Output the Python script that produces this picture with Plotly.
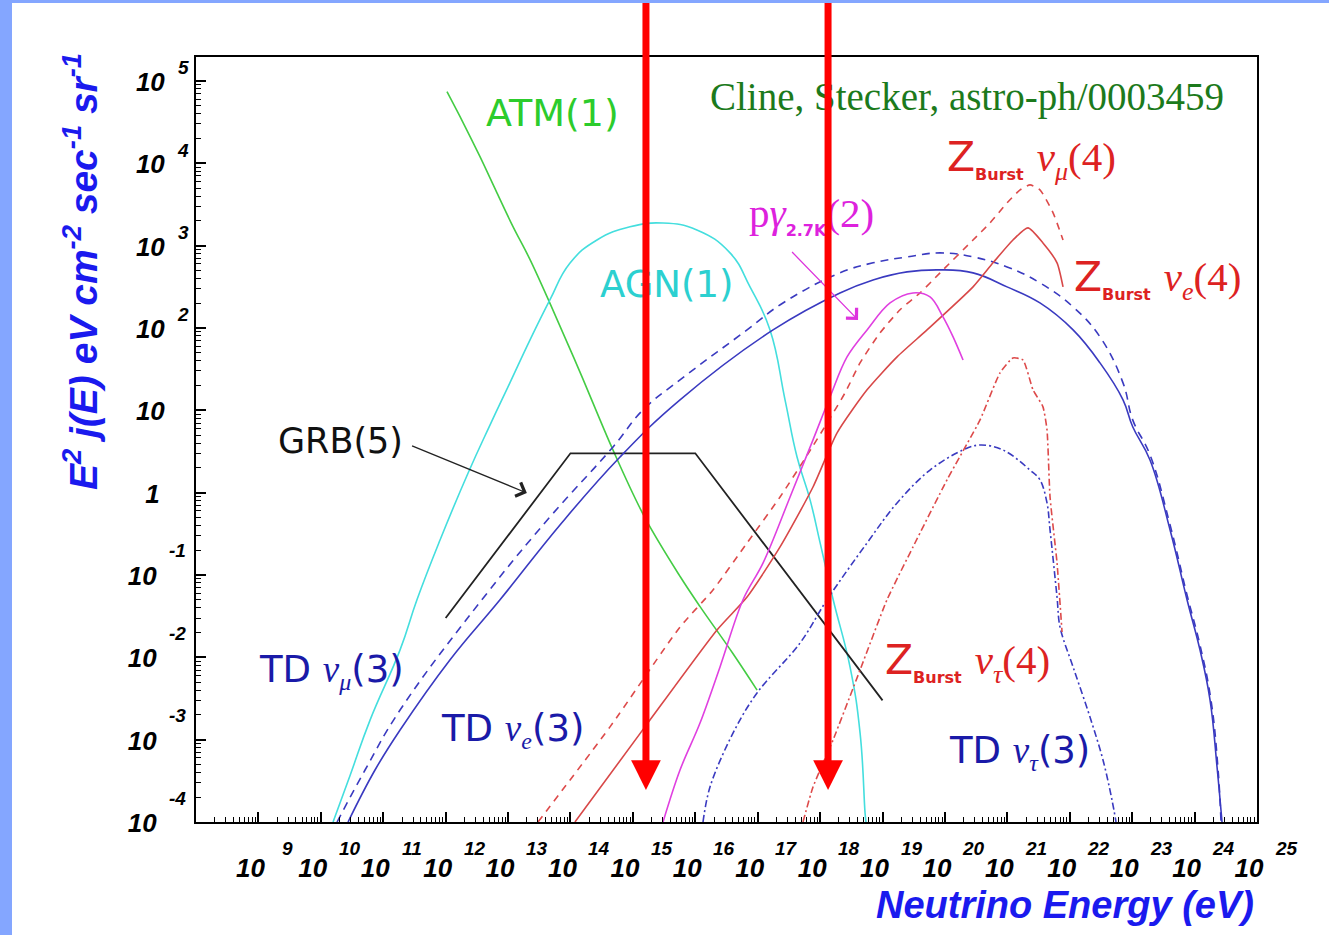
import numpy as np
import plotly.graph_objects as go

# ---------------- data: E [eV], E^2 j(E) [eV cm^-2 s^-1 sr^-1] ----------------
atm_E = [1.05e12, 1.91e12, 3.55e12, 6.61e12, 1.20e13, 2.24e13, 4.68e13, 1.41e14,
         4.79e14, 1.55e15, 5.75e15, 1.20e16, 3.98e16, 9.77e16]
atm_F = [7.4e4, 3.1e4, 1.2e4, 4.4e3, 1.7e3, 680, 200, 29.5, 3.3, 0.50, 0.095,
         0.041, 0.0112, 0.0040]

agn_E = [1.57e10, 2.95e10, 6.17e10, 1.86e11, 3.47e11, 8.13e11, 2.29e12, 5.13e12,
         1.07e13, 2.24e13, 4.68e13, 9.77e13, 2.66e14, 9.00e14, 3.04e15, 1.06e16,
         3.60e16, 7.53e16, 1.57e17, 2.74e17, 4.27e17, 6.92e17, 1.00e18, 1.62e18,
         3.02e18, 4.37e18, 5.25e18, 5.43e18]
agn_F = [1e-4, 3.7e-4, 1.74e-3, 0.0123, 0.050, 0.266, 1.73, 6.6, 21.5, 71, 219,
         610, 1170, 1690, 1880, 1550, 815, 315, 95, 13.4, 2.71, 0.81, 0.245, 0.050,
         0.0076, 1.2e-3, 1.29e-4, 1e-4]

td_e_E = [2.73e10, 7.38e10, 1.86e11, 1.17e12, 7.43e12, 6.79e13, 6.22e14, 5.69e15,
          1.76e17, 2.08e18, 7.05e18, 2.47e19, 8.34e19, 2.82e20, 9.89e20, 3.33e21,
          1.13e22, 3.05e22, 7.13e22, 1.02e23, 1.93e23, 4.05e23, 7.57e23, 1.22e24,
          1.77e24, 2.29e24, 2.75e24]
td_e_F = [1e-4, 4.28e-4, 1.31e-3, 9.29e-3, 0.050, 0.405, 2.71, 13.4, 94.6, 266, 383,
          479, 507, 466, 315, 201, 94.6, 37.6, 13.4, 6.3, 2.49, 0.352, 0.050, 0.0123,
          3.03e-3, 4.66e-4, 1e-4]

td_mu_E = [1.82e10, 5.11e10, 1.86e11, 4.78e12, 4.70e13, 4.81e14, 1.45e15, 5.69e15,
           6.75e16, 2.54e17, 2.08e18, 7.05e18, 2.47e19, 8.34e19, 2.82e20, 9.89e20,
           3.33e21, 1.13e22, 3.05e22, 7.13e22, 1.02e23, 1.93e23, 4.05e23, 7.57e23,
           1.22e24, 1.83e24, 2.38e24, 2.65e24]
td_mu_F = [1e-4, 4.28e-4, 2.29e-3, 0.0622, 0.507, 3.59, 10.1, 23.4, 94.6, 201, 466,
           617, 728, 815, 728, 551, 352, 180, 77.8, 21.5, 7.64, 2.87, 0.405, 0.0571,
           0.0141, 3.03e-3, 4.28e-4, 1e-4]

td_tau_E = [1.33e16, 1.72e16, 4.02e16, 9.75e16, 4.76e17, 1.29e18, 5.65e18, 1.71e19,
            5.77e19, 1.95e20, 3.65e20, 8.53e20, 2.31e21, 3.33e21, 4.32e21, 4.83e21,
            6.25e21, 6.98e21, 1.13e22, 2.11e22, 3.41e22, 4.75e22, 5.51e22]
td_tau_F = [1e-4, 2.66e-4, 1.2e-3, 3.69e-3, 0.0149, 0.050, 0.245, 0.750, 1.88, 3.30,
            3.79, 3.30, 1.88, 1.43, 0.750, 0.352, 0.054, 0.0233, 7.64e-3, 1.88e-3,
            5.66e-4, 1.85e-4, 1e-4]

zb_mu_E = [3.02e13, 4.30e14, 5.69e15, 1.92e16, 6.75e16, 2.28e17, 7.69e17, 2.51e18,
           4.36e18, 9.12e18, 1.91e19, 3.98e19, 8.34e19, 2.82e20, 5.27e20, 9.89e20,
           1.60e21, 2.31e21, 3.33e21, 5.40e21, 7.80e21]
zb_mu_F = [1e-4, 1.43e-3, 0.0233, 0.0658, 0.245, 0.885, 3.69, 16.3, 37.6, 86.9, 166,
           266, 466, 1170, 1884, 3296, 4742, 5458, 4742, 2496, 1170]

zb_e_E = [1.18e14, 1.56e15, 2.23e16, 6.75e16, 2.28e17, 7.69e17, 1.87e18, 5.65e18,
          1.71e19, 5.16e19, 2.82e20, 5.89e20, 1.23e21, 2.14e21, 3.72e21, 6.25e21, 7.80e21]
zb_e_F = [1e-4, 1.43e-3, 0.0215, 0.054, 0.219, 1.17, 5.31, 17.7, 44.5, 94.6, 315, 617,
          1170, 1640, 1076, 617, 315]

zb_tau_E = [5.32e17, 7.69e17, 1.61e18, 4.36e18, 1.18e19, 3.08e19, 1.08e20, 3.65e20,
            7.62e20, 1.23e21, 1.78e21, 2.58e21, 3.72e21, 4.32e21, 4.83e21, 6.25e21, 7.52e21]
zb_tau_F = [1e-4, 2.66e-4, 9.9e-4, 7.0e-3, 0.050, 0.219, 1.43, 7.64, 28.4, 43.2, 40.8,
            17.7, 11.0, 5.77, 0.885, 0.140, 0.0203]

pg_E = [3.04e15, 5.69e15, 1.19e16, 2.49e16, 5.82e16, 1.22e17, 3.30e17, 7.69e17,
        1.44e18, 2.70e18, 5.65e18, 1.32e19, 3.08e19, 5.77e19, 9.31e19, 1.35e20, 1.95e20]
pg_F = [1e-4, 4.28e-4, 1.59e-3, 7.64e-3, 0.050, 0.140, 0.885, 4.37, 14.5, 44.5, 94.6,
        201, 266, 238, 136, 77.8, 40.8]

grb_E = [1e12, 1e14, 1e16, 1e19]
grb_F = [0.03, 3.0, 3.0, 0.003]

# tick labels (decade exponents)
x_exponents = list(range(9, 26))
y_exponents = [-4, -3, -2, -1, 0, 1, 2, 3, 4, 5]

# curve labels (rich text built from styled spans)
SERIF = "Liberation Serif"


def sp(text, size, family=None, italic=False, bold=False):
    st = [f"font-size:{size}px"]
    if family:
        st.append(f"font-family:{family}")
    if italic:
        st.append("font-style:italic")
    if bold:
        st.append("font-weight:bold")
    return f"<span style='{';'.join(st)}'>{text}</span>"


def zburst(flav, s=41):
    return ("Z<sub>" + sp("Burst", 16, bold=True) + "</sub> "
            + sp("ν", s, SERIF, italic=True) + "<sub>" + sp(flav, 26, SERIF, italic=True)
            + "</sub>" + sp("(4)", s, SERIF))


def td(flav, s=37):
    return ("TD " + sp("ν", s, SERIF, italic=True) + "<sub>"
            + sp(flav, 24, SERIF, italic=True) + "</sub>" + "(3)")


lab_text = [
    "ATM(1)",
    "AGN(1)",
    "GRB(5)",
    sp("p", 41, SERIF) + sp("γ", 41, SERIF, italic=True) + "<sub>"
    + sp("2.7K", 16, bold=True) + "</sub>" + sp("(2)", 41, SERIF),
    zburst("μ"),
    zburst("e"),
    zburst("τ"),
    td("μ"),
    td("e"),
    td("τ"),
]
lab_E = [5.06e13, 3.52e15, 2.03e10, 7.41e17, 2.48e21, 2.50e23, 2.26e20, 1.46e10, 1.16e13, 1.54e21]
lab_F = [4.08e4, 333, 4.25, 2361, 1.10e4, 383, 8.77e-3, 6.64e-3, 1.31e-3, 7.08e-4]
lab_col = ["#2ccc2c", "#2cd0d0", "#111111", "#dd22dd", "#dd2222", "#dd2222", "#dd2222",
           "#1a1aa8", "#1a1aa8", "#1a1aa8"]
lab_size = [38, 37, 35, 41, 41, 41, 41, 37, 37, 37]

credit_text = "Cline, Stecker, astro-ph/0003459"
credit_E, credit_F = 2.26e20, 6.4e4

# pointer arrows (head, tail)
grb_arrow = dict(E=2.0e13, F=0.99, tE=2.69e11, tF=3.79)
pg_arrow = dict(E=4.05e18, F=125, tE=3.30e17, tF=885)

# red marker arrows
red_arrow_E = [1.62e15, 1.34e18]
red_arrow_tipF = 2.45e-4

# ---------------- figure ----------------
W, H = 1329, 935
L, R, T, B = 196, 72, 57, 113
pw, ph = W - L - R, H - T - B

fig = go.Figure()


def add_curve(E, F, color, dash="solid", width=1.6, shape="spline", smooth=1.0):
    line = dict(color=color, width=width, dash=dash, shape=shape)
    if shape == "spline":
        line["smoothing"] = smooth
    fig.add_trace(go.Scatter(x=E, y=F, mode="lines", line=line, hoverinfo="skip"))


add_curve(atm_E, atm_F, "#44cc44")
add_curve(agn_E, agn_F, "#44dede", smooth=1.3)
add_curve(grb_E, grb_F, "#222222", width=1.8, shape="linear")
add_curve(td_mu_E, td_mu_F, "#3a3ac0", dash="8px,6px", smooth=1.2)
add_curve(td_e_E, td_e_F, "#3a3ac0", smooth=1.2)
add_curve(td_tau_E, td_tau_F, "#3a3ac0", dash="7px,3px,2px,3px", smooth=1.0)
add_curve(zb_mu_E, zb_mu_F, "#dd4a4a", dash="7px,6px", smooth=0.6)
add_curve(zb_e_E, zb_e_F, "#d84848", smooth=0.6)
add_curve(zb_tau_E, zb_tau_F, "#dd4a4a", dash="7px,3px,2px,3px", smooth=0.5)
add_curve(pg_E, pg_F, "#e040e0", smooth=1.0)

ann = []
lg = np.log10

# curve labels
for t, e, f, c, s in zip(lab_text, lab_E, lab_F, lab_col, lab_size):
    ann.append(dict(x=lg(e), y=lg(f), xref="x", yref="y", text=t, showarrow=False,
                    xanchor="center", yanchor="middle",
                    font=dict(family="DejaVu Sans", size=s, color=c)))
ann.append(dict(x=lg(credit_E), y=lg(credit_F), xref="x", yref="y", text=credit_text,
                showarrow=False, xanchor="center", yanchor="middle",
                font=dict(family=SERIF, size=39, color="#1c7a1c")))

# pointer arrows
for a, col in ((grb_arrow, "#222222"), (pg_arrow, "#dd33dd")):
    ann.append(dict(x=lg(a["E"]), y=lg(a["F"]), ax=lg(a["tE"]), ay=lg(a["tF"]),
                    xref="x", yref="y", axref="x", ayref="y", text=" ", showarrow=True,
                    arrowhead=4, arrowsize=2.2, arrowwidth=1.3, arrowcolor=col,
                    font=dict(size=2)))

# tick-label fonts
tick_font_big = dict(family="Liberation Sans", size=26, color="black", weight="bold", style="italic")
tick_font_sm = dict(family="Liberation Sans", size=19, color="black", weight="bold", style="italic")

# x exponents (the "10" bases are the axis tick labels)
for n in x_exponents:
    ann.append(dict(x=n, y=(822 - 848) / ph, xref="x", yref="paper", text=str(n),
                    showarrow=False, xanchor="center", yanchor="middle", xshift=29,
                    font=tick_font_sm))

# y exponents
for n in y_exponents:
    if n >= 2:
        ann.append(dict(x=(183 - L) / pw, y=n, xref="paper", yref="y", text=str(n),
                        showarrow=False, xanchor="center", yanchor="middle", yshift=13,
                        font=tick_font_sm))
    elif n < 0:
        ann.append(dict(x=(177 - L) / pw, y=n, xref="paper", yref="y", text=str(n),
                        showarrow=False, xanchor="center", yanchor="middle", yshift=24,
                        font=tick_font_sm))

NBSP = "\u00a0"
x_ticktext = ["10" for n in x_exponents]
y_ticktext = []
for n in y_exponents:
    if n < 0:
        y_ticktext.append("10" + sp(NBSP, 29))
    elif n == 0:
        y_ticktext.append("1" + sp(NBSP, 18))
    else:
        y_ticktext.append("10")

# axis titles
ann.append(dict(x=(80 - L) / pw, y=(822 - 272) / ph, xref="paper", yref="paper",
                text="E<sup>2</sup> j(E) eV cm<sup>-2</sup> sec<sup>-1</sup> sr<sup>-1</sup>",
                textangle=-90, showarrow=False, xanchor="center", yanchor="middle",
                font=dict(family="Liberation Sans", size=39, color="#1a1aee",
                          weight="bold", style="italic")))
ann.append(dict(x=(1256 - L) / pw, y=(822 - 905) / ph, xref="paper", yref="paper",
                text="Neutrino Energy (eV)", showarrow=False, xanchor="right",
                yanchor="middle",
                font=dict(family="Liberation Sans", size=38, color="#1a1aee",
                          weight="bold", style="italic")))

# red marker arrows
for e in red_arrow_E:
    ann.append(dict(x=lg(e), y=lg(red_arrow_tipF), xref="x", yref="y", ax=0, ay=-790,
                    text=" ", showarrow=True, arrowhead=2, arrowsize=0.85, arrowwidth=7,
                    arrowcolor="#ff0000", standoff=0, font=dict(size=2)))

shapes = [
    dict(type="rect", xref="paper", yref="paper", x0=(0 - L) / pw, x1=(12 - L) / pw,
         y0=(822 - H) / ph, y1=(822 - 0) / ph, line=dict(width=0), fillcolor="#84a6ff"),
    dict(type="rect", xref="paper", yref="paper", x0=(0 - L) / pw, x1=(W - L) / pw,
         y0=(822 - 3) / ph, y1=(822 - 0) / ph, line=dict(width=0), fillcolor="#84a6ff"),
]

axis_common = dict(type="log", showgrid=False, zeroline=False, showline=True,
                   linecolor="black", linewidth=2, mirror=True, ticks="inside",
                   ticklen=10, tickwidth=1.5, tickcolor="black",
                   tickmode="array", tickfont=tick_font_big,
                   minor=dict(ticks="inside", ticklen=5, tickwidth=1, tickcolor="black",
                              dtick="D1", showgrid=False))

fig.update_layout(
    width=W, height=H, autosize=False,
    margin=dict(l=L, r=R, t=T, b=B, pad=0),
    paper_bgcolor="white", plot_bgcolor="white",
    showlegend=False,
    xaxis=dict(axis_common, range=[8, 25],
               tickvals=[10.0 ** n for n in x_exponents], ticktext=x_ticktext,
               ticklabelshift=-8, ticklabelstandoff=22),
    yaxis=dict(axis_common, range=[-4, 5.29],
               tickvals=[10.0 ** n for n in y_exponents], ticktext=y_ticktext,
               ticklabelshift=1, ticklabelstandoff=24),
    annotations=ann, shapes=shapes,
)

fig.write_html("out.html")
